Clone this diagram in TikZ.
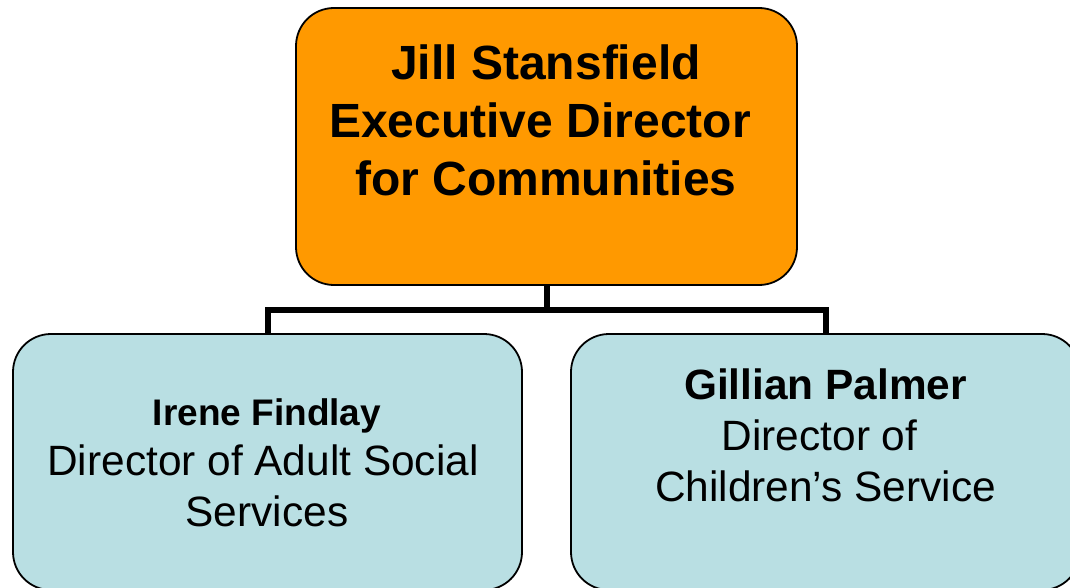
\documentclass[tikz,border=0pt]{standalone}
\usepackage{fontspec}
\setmainfont{Liberation Sans}
\definecolor{topfill}{RGB}{255,153,0}
\definecolor{subfill}{RGB}{185,223,227}
\newcommand{\trailpad}[1]{\hbox to #1{\hfil}}
\tikzset{
  box/.style={draw=black, line width=1.8pt, rounded corners=38pt, inner sep=0pt},
  conn/.style={draw=black, line width=6pt, line join=miter},
  txt/.style={align=center, inner sep=0pt, anchor=north}
}
\begin{document}
\begin{tikzpicture}[x=1pt,y=-1pt]
\useasboundingbox (0,0) rectangle (1070,588);
\clip (0,0) rectangle (1070,588);
% boxes
\node[box, fill=topfill, minimum width=501pt, minimum height=277pt] (top) at (546.5,146.5) {};
\node[box, fill=subfill, minimum width=509pt, minimum height=256pt] (left) at (267.5,462) {};
\node[box, fill=subfill, minimum width=509pt, minimum height=256pt] (right) at (825.5,462) {};
% connectors
\coordinate (bus) at (546.5,310);
\draw[conn] (top.south) -- (bus);
\draw[conn] (left.north) |- (bus) -| (right.north);
% texts
\node[txt, font=\fontsize{48}{57.6}\selectfont\bfseries] (toptxt) at (546,45)
  {Jill Stansfield\\Executive Director\trailpad{12pt}\\for Communities};
\node[txt, font=\fontsize{42.4}{50.5}\selectfont] (lefttxt) at (267,398)
  {{\bfseries\fontsize{37}{44}\selectfont Irene Findlay}\\Director of Adult Social\trailpad{8pt}\\Services};
\node[txt, font=\fontsize{42.4}{50.8}\selectfont] (righttxt) at (825.5,369)
  {{\bfseries Gillian Palmer}\\Director of\trailpad{12pt}\\Children’s Service};
\end{tikzpicture}
\end{document}
